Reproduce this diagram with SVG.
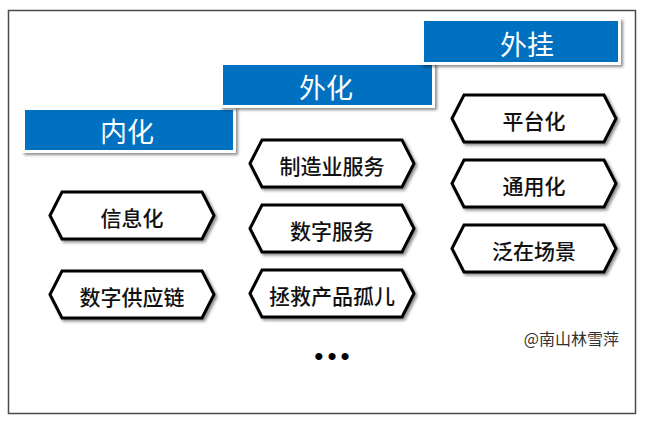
<svg xmlns="http://www.w3.org/2000/svg" width="648" height="424" viewBox="0 0 648 424">
  <style>
    .frame { fill: #ffffff; stroke: #4a4a4a; stroke-width: 1.5; }
    .step { fill: #0070C0; stroke: #ffffff; stroke-width: 3; filter: url(#shadow); }
    .steptext { font-family: "Noto Sans CJK SC", "Noto Sans", sans-serif; font-size: 27px; fill: #ffffff; text-anchor: middle; dominant-baseline: central; }
    .hex { fill: #ffffff; stroke: #000000; stroke-width: 3; stroke-linejoin: miter; filter: url(#shadow); }
    .hextext { font-family: "Noto Sans CJK SC", "Noto Sans", sans-serif; font-size: 21px; font-weight: 500; fill: #111111; text-anchor: middle; dominant-baseline: central; }
    .mark { font-family: "Noto Sans CJK SC", "Noto Sans", sans-serif; font-size: 16px; fill: #333333; text-anchor: end; dominant-baseline: central; }
    .dots { font-family: "Liberation Sans", sans-serif; font-size: 26px; fill: #000000; text-anchor: middle; dominant-baseline: central; letter-spacing: 4px; }
  </style>
  <defs>
    <filter id="shadow" x="-10%" y="-20%" width="125%" height="150%">
      <feDropShadow dx="2" dy="2" stdDeviation="1.6" flood-color="#000000" flood-opacity="0.45"/>
    </filter>
    <path id="hexshape" d="M0,23.5 L12,0 L152,0 L164,23.5 L152,47 L12,47 Z"/>
  </defs>

  <rect class="frame" x="8.5" y="10.5" width="627" height="403"/>

  <g id="step-neihua">
    <rect class="step" x="23.5" y="108.5" width="211" height="43"/>
    <text class="steptext" x="127" y="130">内化</text>
  </g>
  <g id="step-waihua">
    <rect class="step" x="221.5" y="63.5" width="212" height="43"/>
    <text class="steptext" x="326" y="86">外化</text>
  </g>
  <g id="step-waigua">
    <rect class="step" x="422.5" y="19.5" width="197" height="44"/>
    <text class="steptext" x="527" y="43">外挂</text>
  </g>

  <g id="node-xinxihua" transform="translate(50,192)">
    <use href="#hexshape" class="hex"/>
    <text class="hextext" x="82" y="25">信息化</text>
  </g>
  <g id="node-shuzigongyinglian" transform="translate(50,271)">
    <use href="#hexshape" class="hex"/>
    <text class="hextext" x="82" y="25">数字供应链</text>
  </g>

  <g id="node-zhizaoyefuwu" transform="translate(250,140)">
    <use href="#hexshape" class="hex"/>
    <text class="hextext" x="82" y="25">制造业服务</text>
  </g>
  <g id="node-shuzifuwu" transform="translate(250,205)">
    <use href="#hexshape" class="hex"/>
    <text class="hextext" x="82" y="25">数字服务</text>
  </g>
  <g id="node-zhengjiu" transform="translate(250,270)">
    <use href="#hexshape" class="hex"/>
    <text class="hextext" x="82" y="25">拯救产品孤儿</text>
  </g>

  <g id="node-pingtaihua" transform="translate(452,95)">
    <use href="#hexshape" class="hex"/>
    <text class="hextext" x="82" y="25">平台化</text>
  </g>
  <g id="node-tongyonghua" transform="translate(452,160)">
    <use href="#hexshape" class="hex"/>
    <text class="hextext" x="82" y="25">通用化</text>
  </g>
  <g id="node-fanzaichangjing" transform="translate(452,225)">
    <use href="#hexshape" class="hex"/>
    <text class="hextext" x="82" y="25">泛在场景</text>
  </g>

  <g id="connectors"></g>

  <text class="dots" x="334" y="356">•••</text>
  <text class="mark" x="619" y="338">@南山林雪萍</text>
</svg>
